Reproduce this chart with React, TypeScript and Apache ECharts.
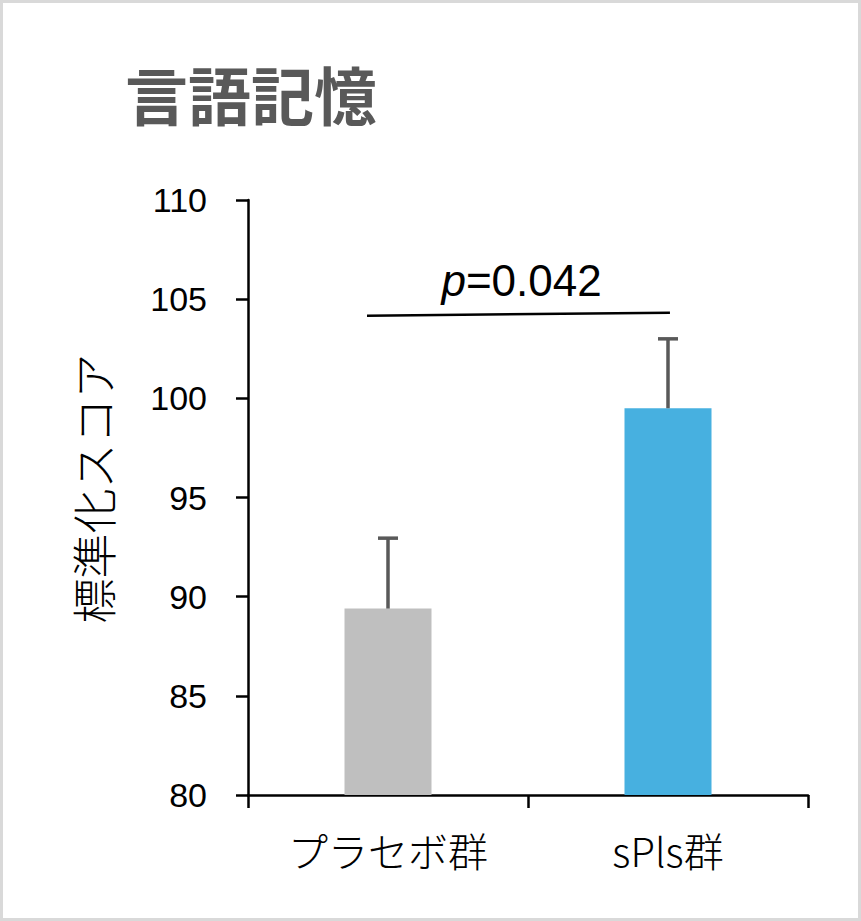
import React, { useEffect, useRef } from "react";
import * as echarts from "echarts";

const categories = ["プラセボ群", "sPls群"];
const means = [89.4, 99.5];
const upperErrors = [92.95, 103.0];
const barColors = ["#BFBFBF", "#47B0E0"];
const yTicks = { min: 80, max: 110, interval: 5 };
const sigLine = [
  [0.425, 104.17],
  [1.507, 104.32],
];
const sigLabel = { x: 0.977, y: 105.95, text: "0.042" };
const titleText = "言語記憶";
const yName = "標準化スコア";

export default function App() {
  const ref = useRef<HTMLDivElement>(null);
  useEffect(() => {
    document.body.style.margin = "0";
    const chart = echarts.init(ref.current!, null, { renderer: "svg" });
    const cjk = '"Noto Sans CJK JP", "Noto Sans", sans-serif';
    const latin = '"Liberation Sans", Arial, sans-serif';
    chart.setOption({
      animation: false,
      backgroundColor: "#ffffff",
      grid: { left: 248, right: 53, top: 200, bottom: 126, containLabel: false },
      graphic: [
        {
          type: "rect",
          shape: { x: 1.5, y: 1.5, width: 858, height: 918 },
          style: { fill: "none", stroke: "#D9D9D9", lineWidth: 3 },
        },
        {
          type: "text",
          x: 125,
          y: 92,
          style: {
            text: titleText,
            fontFamily: cjk,
            fontWeight: "bold",
            fontSize: 63,
            fill: "#595959",
            verticalAlign: "middle",
          },
        },
      ],
      xAxis: [
        {
          type: "category",
          data: categories,
          axisLine: { show: true, lineStyle: { color: "#000", width: 2.5 } },
          axisTick: { show: true, length: 13, lineStyle: { color: "#000", width: 2.5 } },
          axisLabel: {
            margin: 35,
            color: "#000",
            fontSize: 40,
            fontFamily: cjk,
            fontWeight: 300,
          },
          splitLine: { show: false },
        },
        { type: "value", min: 0, max: 2, show: false },
      ],
      yAxis: {
        type: "value",
        min: yTicks.min,
        max: yTicks.max,
        interval: yTicks.interval,
        name: yName,
        nameLocation: "middle",
        nameGap: 133,
        nameTextStyle: {
          fontSize: 45,
          fontFamily: cjk,
          fontWeight: 300,
          color: "#000",
          padding: [0, 0, 0, 18],
        },
        axisLine: { show: true, lineStyle: { color: "#000", width: 2.5 } },
        axisTick: { show: true, length: 12, lineStyle: { color: "#000", width: 2.5 } },
        axisLabel: { margin: 41, color: "#000", fontSize: 34, fontFamily: latin },
        splitLine: { show: false },
      },
      series: [
        {
          type: "bar",
          data: means.map((v, i) => ({ value: v, itemStyle: { color: barColors[i] } })),
          barWidth: 87,
        },
        {
          type: "custom",
          data: means.map((v, i) => [i, v, upperErrors[i]]),
          z: 5,
          renderItem: (params: any, api: any) => {
            const x = api.value(0);
            const base = api.coord([x, api.value(1)]);
            const top = api.coord([x, api.value(2)]);
            const style = { stroke: "#595959", lineWidth: 3.5 };
            return {
              type: "group",
              children: [
                { type: "line", shape: { x1: base[0], y1: base[1], x2: top[0], y2: top[1] }, style },
                { type: "line", shape: { x1: top[0] - 10, y1: top[1], x2: top[0] + 10, y2: top[1] }, style },
              ],
            };
          },
        },
        {
          type: "line",
          xAxisIndex: 1,
          data: sigLine,
          symbol: "none",
          lineStyle: { color: "#000", width: 2.5 },
          silent: true,
        },
        {
          type: "custom",
          xAxisIndex: 1,
          data: [[sigLabel.x, sigLabel.y]],
          renderItem: (params: any, api: any) => {
            const p = api.coord([api.value(0), api.value(1)]);
            return {
              type: "text",
              x: p[0],
              y: p[1],
              style: {
                text: "{i|p}{n|=" + sigLabel.text + "}",
                align: "center",
                verticalAlign: "middle",
                rich: {
                  i: { fontStyle: "italic", fontSize: 44, fontFamily: latin, fill: "#000" },
                  n: { fontSize: 44, fontFamily: latin, fill: "#000" },
                },
              },
            };
          },
        },
      ],
    });
    return () => chart.dispose();
  }, []);
  return <div ref={ref} style={{ width: 861, height: 921 }} />;
}
